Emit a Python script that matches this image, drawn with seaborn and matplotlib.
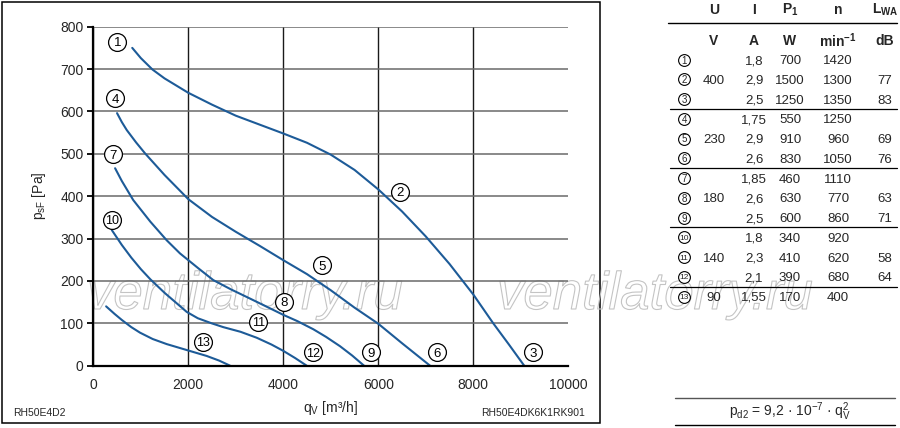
import numpy as np
import pandas as pd
import matplotlib
matplotlib.use("Agg")
import matplotlib.pyplot as plt
import seaborn as sns
from matplotlib import patheffects as pe

sns.set_theme(style="white")
plt.rcParams["font.family"] = ["Liberation Sans", "DejaVu Sans"]
plt.rcParams["mathtext.fontset"] = "custom"
plt.rcParams["mathtext.rm"] = "Liberation Sans"
plt.rcParams["mathtext.it"] = "Liberation Sans:italic"
plt.rcParams["mathtext.bf"] = "Liberation Sans:bold"

# ---------------- data ----------------
curve_a_q = [820, 1000, 1245, 1500, 2000, 2500, 3000, 3500, 4000, 4500, 5000, 5500,
             6000, 6500, 7000, 7500, 8000, 8420, 8750, 9072]
curve_a_p = [750, 726, 699, 678, 644, 616, 590, 569, 548, 526, 498, 462,
             416, 364, 305, 240, 168, 100, 50, 0]

curve_b_q = [500, 600, 705, 900, 1090, 1500, 2000, 2500, 3000, 3500, 4000, 4500,
             5000, 5500, 6000, 6500, 7090]
curve_b_p = [596, 575, 556, 527, 501, 450, 393, 351, 316, 283, 249, 216,
             178, 137, 99, 53, 0]

curve_c_q = [459, 600, 840, 1200, 1545, 1825, 2210, 2526, 2900, 3270, 3600, 4000,
             4300, 4632, 4900, 5194, 5450, 5700]
curve_c_p = [466, 436, 391, 340, 296, 265, 230, 202, 180, 160, 142, 120,
             105, 86, 68, 46, 24, 0]

curve_d_q = [390, 600, 800, 1000, 1200, 1500, 1966, 2200, 2492, 2737, 3100, 3440,
             3750, 4000, 4250, 4493]
curve_d_p = [320, 285, 255, 228, 204, 172, 127, 112, 100, 91, 80, 66,
             50, 35, 18, 0]

curve_e_q = [270, 450, 600, 800, 983, 1250, 1545, 1966, 2387, 2650, 2880]
curve_e_p = [140, 122, 108, 91, 78, 63, 51, 37, 23, 12, 0]

label_ids = ["1", "2", "3", "4", "5", "6", "7", "8", "9", "10", "11", "12", "13"]
label_q = [506, 6457, 9250, 457, 4808, 7230, 423, 4015, 5840, 387, 3474, 4632, 2316]
label_p = [764, 410, 32, 631, 237, 32, 499, 151, 32, 345, 104, 32, 57]

x_ticks = [0, 2000, 4000, 6000, 8000, 10000]
y_ticks = [0, 100, 200, 300, 400, 500, 600, 700, 800]

tab_U = ["", "400", "", "", "230", "", "", "180", "", "", "140", "", "90"]
tab_I = ["1,8", "2,9", "2,5", "1,75", "2,9", "2,6", "1,85", "2,6", "2,5", "1,8", "2,3", "2,1", "1,55"]
tab_P = ["700", "1500", "1250", "550", "910", "830", "460", "630", "600", "340", "410", "390", "170"]
tab_n = ["1420", "1300", "1350", "1250", "960", "1050", "1110", "770", "860", "920", "620", "680", "400"]
tab_L = ["", "77", "83", "", "69", "76", "", "63", "71", "", "58", "64", ""]

# ---------------- figure ----------------
W, H = 900, 428
fig = plt.figure(figsize=(9.0, 4.28), dpi=100)
fig.patch.set_facecolor("white")

# overlay axes in pixel coordinates (drawn under the chart axes)
ov = fig.add_axes([0, 0, 1, 1], zorder=0)
ov.set_xlim(0, W)
ov.set_ylim(H, 0)
ov.axis("off")

ax = fig.add_axes([93.3 / W, 1 - 365.7 / H, 475 / W, 339 / H], zorder=1)
ax.patch.set_alpha(0)

blue = "#1d5b98"
frames = []
for name, q, p in [("A", curve_a_q, curve_a_p), ("B", curve_b_q, curve_b_p),
                   ("C", curve_c_q, curve_c_p), ("D", curve_d_q, curve_d_p),
                   ("E", curve_e_q, curve_e_p)]:
    frames.append(pd.DataFrame({"curve": name, "q": q, "p": p}))
df = pd.concat(frames, ignore_index=True)

sns.lineplot(data=df, x="q", y="p", units="curve", estimator=None, sort=False,
             color=blue, linewidth=1.5, ax=ax, legend=False, zorder=3)

lab = pd.DataFrame({"id": label_ids, "q": label_q, "p": label_p})
sns.scatterplot(data=lab, x="q", y="p", s=165, color="white", edgecolor="black",
                linewidth=0.9, ax=ax, legend=False, zorder=4)
for _, r in lab.iterrows():
    ax.text(r.q, r.p, r.id, ha="center", va="center_baseline",
            fontsize=9.5 if len(r.id) == 1 else 9, color="black", zorder=5)

ax.set_xlim(0, 10000)
ax.set_ylim(0, 800)
ax.set_xticks(x_ticks)
ax.set_yticks(y_ticks)
ax.set_xticklabels([str(t) for t in x_ticks], fontsize=10)
ax.set_yticklabels([str(t) for t in y_ticks], fontsize=10)
ax.tick_params(axis="y", left=True, length=4.5, width=1.3, color="black", pad=2.5)
ax.tick_params(axis="x", bottom=False, length=0, pad=9)
for s in ["top", "right"]:
    ax.spines[s].set_visible(False)
for s in ["left", "bottom"]:
    ax.spines[s].set_linewidth(1.6)
    ax.spines[s].set_color("black")
    ax.spines[s].set_zorder(6)

ax.grid(True, axis="y", color="#6a6a6a", linewidth=1.1)
ax.grid(True, axis="x", color="#1a1a1a", linewidth=1.0)
ax.set_axisbelow(True)
ax.get_xgridlines()[-1].set_visible(False)

ax.set_xlabel(r"q$_{\mathrm{V}}$ [m³/h]", fontsize=10, labelpad=5)
ax.set_ylabel(r"p$_{\mathrm{sF}}$ [Pa]", fontsize=10, labelpad=9)

# ---------------- overlay: frame, watermark, texts ----------------
ov.add_patch(plt.Rectangle((2, 2), 598, 421, fill=False, edgecolor="black", linewidth=1.1))
ov.text(13, 413, "RH50E4D2", fontsize=7.5, ha="left", va="center")
ov.text(585, 413, "RH50E4DK6K1RK901", fontsize=7.5, ha="right", va="center")

for x0 in (87, 497):
    ov.text(x0, 309, "ventilatorry.ru", fontsize=38, style="italic", ha="left",
            va="baseline", color="none", zorder=1,
            path_effects=[pe.withStroke(linewidth=0.8, foreground="#c4c4c4")])

# table
cx = {"c": 684, "U": 714, "I": 754, "P": 790, "n": 838, "L": 885}
fs = 9.5
hfs = 10
hy1, hy2 = 10, 41
ov.text(cx["U"], hy1, "U", fontsize=hfs, fontweight="bold", ha="center", va="center")
ov.text(cx["I"], hy1, "I", fontsize=hfs, fontweight="bold", ha="center", va="center")
ov.text(cx["P"], hy1, r"P$_{\mathbf{1}}$", fontsize=hfs, fontweight="bold", ha="center", va="center")
ov.text(cx["n"], hy1, "n", fontsize=hfs, fontweight="bold", ha="center", va="center")
ov.text(cx["L"], hy1, r"L$_{\mathbf{WA}}$", fontsize=hfs, fontweight="bold", ha="center", va="center")
ov.plot([668, 897], [23, 23], color="black", linewidth=1.0)
ov.text(cx["U"], hy2, "V", fontsize=hfs, fontweight="bold", ha="center", va="center")
ov.text(cx["I"], hy2, "A", fontsize=hfs, fontweight="bold", ha="center", va="center")
ov.text(cx["P"], hy2, "W", fontsize=hfs, fontweight="bold", ha="center", va="center")
ov.text(cx["n"], hy2, r"min$^{\mathbf{-1}}$", fontsize=hfs, fontweight="bold", ha="center", va="center")
ov.text(cx["L"], hy2, "dB", fontsize=hfs, fontweight="bold", ha="center", va="center")

row_y = [59.5 + 19.75 * i for i in range(len(label_ids))]
ov.scatter([cx["c"]] * len(row_y), row_y, s=72, facecolor="white", edgecolor="black",
           linewidth=0.8, zorder=3)
for i, y in enumerate(row_y):
    ov.text(cx["c"], y, label_ids[i], fontsize=7 if len(label_ids[i]) == 1 else 6.0,
            ha="center", va="center_baseline", zorder=4)
    for key, arr in (("U", tab_U), ("I", tab_I), ("P", tab_P), ("n", tab_n), ("L", tab_L)):
        if arr[i]:
            ov.text(cx[key], y, arr[i], fontsize=fs, ha="center", va="center_baseline", zorder=4)
for k in (3, 6, 9, 12):
    yy = (row_y[k - 1] + row_y[k]) / 2
    ov.plot([670, 897], [yy, yy], color="black", linewidth=0.9)

ov.plot([675, 895], [397.5, 397.5], color="#555555", linewidth=1.0)
ov.plot([675, 895], [425, 425], color="black", linewidth=1.0)
ov.text(790, 412, r"p$_{\mathrm{d2}}$ = 9,2 · 10$^{\mathrm{-7}}$ · q$_{\mathrm{V}}^{\mathrm{2}}$",
        fontsize=10, ha="center", va="center")

fig.savefig("out.png", dpi=100, facecolor="white")
